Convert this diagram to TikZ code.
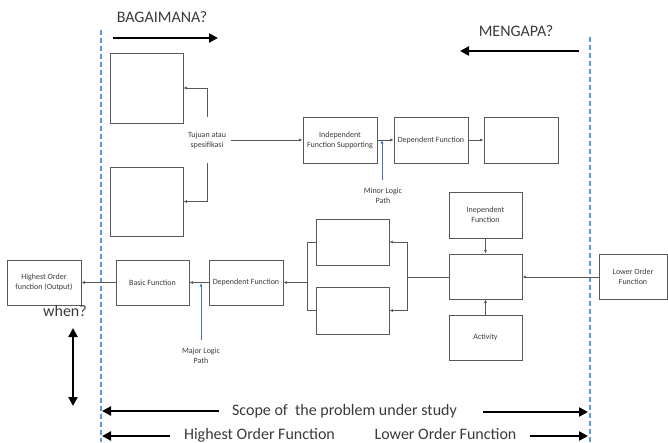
\documentclass[tikz,border=0pt]{standalone}
\usepackage{fontspec}
\setmainfont{Carlito}
\usetikzlibrary{arrows.meta}
\definecolor{txt}{HTML}{3A3A3A}
\definecolor{ln}{HTML}{595959}
\definecolor{dashc}{HTML}{5B9BD5}
\definecolor{blu}{HTML}{4472C4}
\begin{document}
\begin{tikzpicture}[x=1pt,y=-1pt,
 box/.style={draw=ln,line width=0.8pt,minimum width=73pt,minimum height=46pt,inner sep=1pt,align=center,text=txt,font=\fontsize{8}{10}\selectfont},
 small/.style={text=txt,font=\fontsize{8}{10}\selectfont,align=center,inner sep=0pt},
 big/.style={text=txt,font=\fontsize{16}{18}\selectfont,inner sep=0pt},
 conn/.style={draw=ln,line width=0.7pt},
 arr/.style={conn,-{Latex[length=3.5pt,width=3pt]}},
 barr/.style={draw=blu,line width=0.7pt,-{Latex[length=3.5pt,width=3pt]}},
 fat/.style={draw=black,line width=2.6pt,-{Triangle[length=9pt,width=9pt]}},
 fatboth/.style={draw=black,line width=2.6pt,{Triangle[length=9pt,width=9pt]}-{Triangle[length=9pt,width=9pt]}},
 scopeline/.style={draw=dashc,line width=2pt,dash pattern=on 5pt off 3pt}
]
\useasboundingbox (0,0) rectangle (668,442);
\clip (0,0) rectangle (668,442);

% scope lines
\coordinate (lt) at (100.5,30);
\coordinate (lb) at (100.5,442);
\coordinate (rt) at (590,37);
\coordinate (rb) at (590,442);
\draw[scopeline] (lt) -- (lb);
\draw[scopeline] (rt) -- (rb);

% top labels
\node[big] (bag) at (162,17) {BAGAIMANA?};
\coordinate (bagA) at (113,38);
\coordinate (bagB) at (218,38);
\draw[fat] (bagA) -- (bagB);
\node[big] (men) at (516,31) {MENGAPA?};
\coordinate (menA) at (579,51);
\coordinate (menB) at (460,51);
\draw[fat] (menA) -- (menB);

% upper row
\node[box,minimum height=70pt] (b1) at (146.5,88) {};
\node[box,minimum height=69pt] (b2) at (146.5,201.5) {};
\node[small,minimum width=48pt,minimum height=46pt] (tuj) at (207,140) {Tujuan atau\\spesifikasi};
\node[box,minimum width=74pt] (ifs) at (340,140) {Independent\\Function Supporting};
\node[box,minimum width=74pt] (dep1) at (431,140) {Dependent Function};
\node[box,minimum width=74pt] (emp1) at (521,140) {};

\draw[arr] (tuj.north) |- (b1.east);
\draw[arr] (tuj.south) |- (b2.east);
\draw[arr] (tuj.east) -- (ifs.west);
\draw[arr] (ifs.east) -- (dep1.west);
\draw[arr] (dep1.east) -- (emp1.west);

\node[small] (minor) at (383,196) {Minor Logic\\Path};
\coordinate (minorEnd) at (382,140);
\draw[barr] (minor.north -| minorEnd) ++(0,-8) -- (minorEnd);

% lower row
\node[box,minimum width=74pt,minimum height=45pt] (hof) at (44,282.5) {Highest Order\\function (Output)};
\node[box,minimum height=45pt] (basic) at (152.5,282.5) {Basic Function};
\node[box,minimum width=74pt,minimum height=45pt] (dep2) at (246,282.5) {Dependent Function};
\node[box] (s1) at (352.5,242) {};
\node[box,minimum height=47pt] (s2) at (352.5,310.5) {};
\node[box] (inep) at (485.5,215) {Inependent\\Function};
\node[box,minimum height=45pt] (mid) at (485.5,276.5) {};
\node[box,minimum height=45pt] (act) at (485.5,337.5) {Activity};
\node[box,minimum width=68pt,minimum height=45pt] (low) at (633,276.5) {Lower Order\\Function};

\draw[arr] (basic.west) -- (hof.east);
\draw[arr] (dep2.west) -- (basic.east);
\coordinate (jL) at (307,282.5);
\draw[conn] (s1.west) -| (jL);
\draw[conn] (s2.west) -| (jL);
\draw[arr] (jL) -- (dep2.east);
\coordinate (jR) at (407,277);
\draw[conn] (mid.west |- jR) -- (jR);
\draw[arr] (jR) |- (s1.east);
\draw[arr] (jR) |- (s2.east);
\draw[arr] (inep.south) -- (mid.north);
\draw[arr] (act.north) -- (mid.south);
\draw[arr] (low.west |- jR) -- (mid.east |- jR);

\node[small] (major) at (201,356) {Major Logic\\Path};
\coordinate (majorEnd) at (201,283);
\draw[barr] (major.north) ++(0,-8) -- (majorEnd);

% when
\node[big] (when) at (65,311) {when?};
\coordinate (wA) at (73,328);
\coordinate (wB) at (73,406);
\draw[fatboth] (wA) -- (wB);

% bottom
\node[big] (scope) at (344.5,411) {Scope of~ the problem under study};
\coordinate (sL1) at (219,411);
\coordinate (sL2) at (102,411);
\coordinate (sR1) at (483,412);
\coordinate (sR2) at (588,412);
\draw[fat] (sL1) -- (sL2);
\draw[fat] (sR1) -- (sR2);
\node[big,anchor=base] (hofn) at (259.5,439) {Highest Order Function};
\node[big,anchor=base] (lofn) at (445.5,439) {Lower Order Function};
\coordinate (hL1) at (170,436);
\coordinate (hL2) at (102,436);
\coordinate (hR1) at (530,436);
\coordinate (hR2) at (588,436);
\draw[fat] (hL1) -- (hL2);
\draw[fat] (hR1) -- (hR2);
\end{tikzpicture}
\end{document}
